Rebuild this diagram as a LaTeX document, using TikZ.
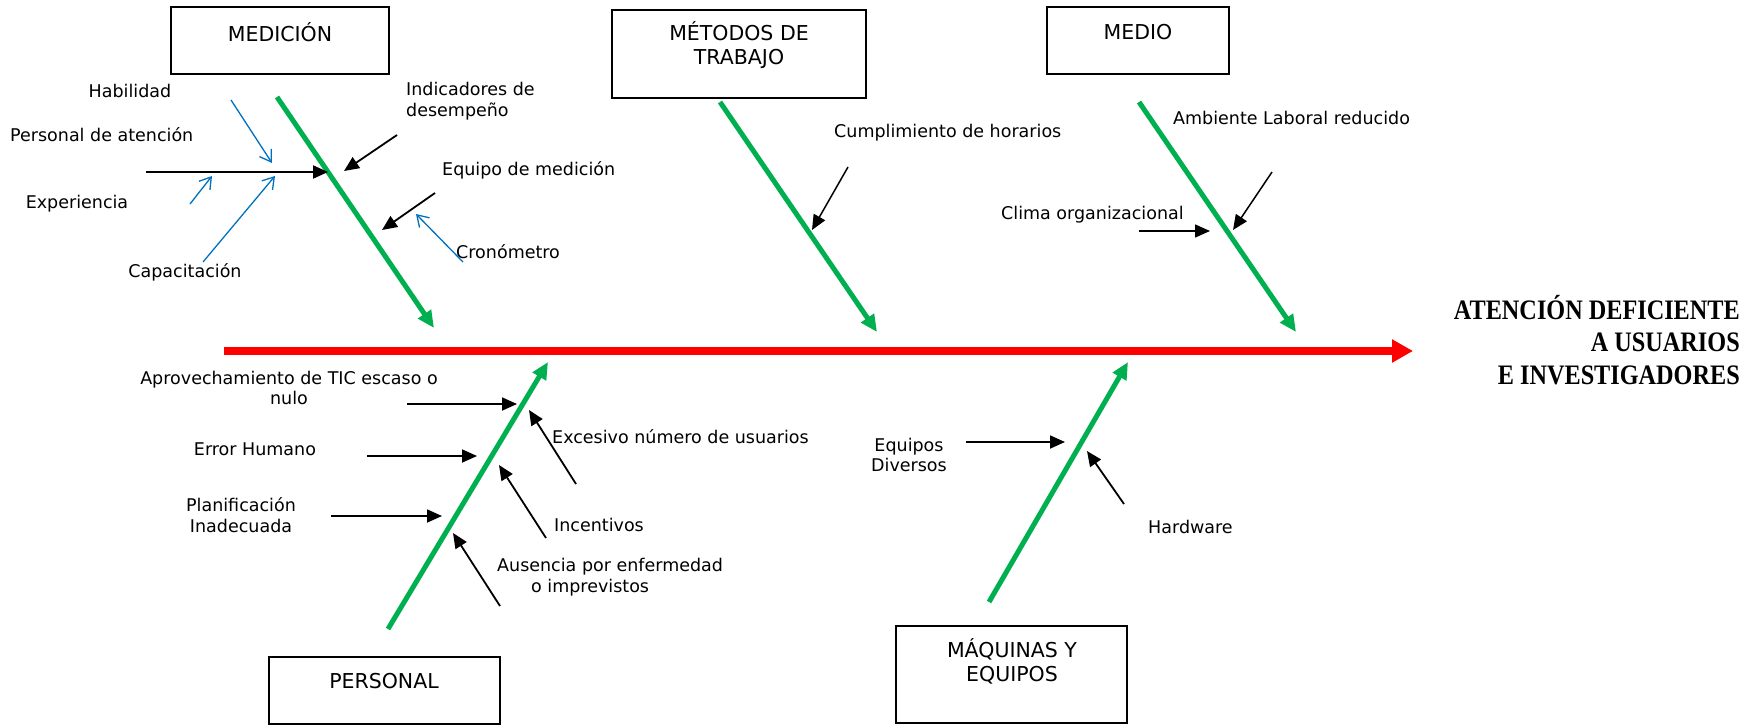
\documentclass[tikz,border=0pt]{standalone}
\usepackage{fontspec}
\usepackage{graphicx}
\setmainfont{DejaVu Sans}
\newfontfamily\effont{Liberation Serif}
\usetikzlibrary{arrows.meta}
\definecolor{boneg}{HTML}{00B050}
\definecolor{subblue}{HTML}{0070C0}
\definecolor{spinered}{HTML}{FF0000}
\begin{document}
\begin{tikzpicture}[x=1pt,y=-1pt,
  catbox/.style={draw, line width=2.4pt, inner sep=0pt},
  cattxt/.style={font=\fontsize{20.5}{24}\selectfont, inner sep=0pt, align=center},
  lbl/.style={font=\fontsize{17.5}{20.5}\selectfont, inner sep=0pt},
  bone/.style={draw=boneg, line width=5pt, -{Triangle[length=17pt,width=15pt]}},
  sub/.style={draw=black, line width=1.8pt, -{Triangle[length=15pt,width=13pt]}},
  subb/.style={draw=subblue, line width=1.3pt, -{Straight Barb[length=11pt,width=14pt]}},
  spine/.style={draw=spinered, line width=7.5pt, -{Triangle[length=21pt,width=22pt]}}]
\useasboundingbox (0,0) rectangle (1760,725);

% ---------- category boxes ----------
\node[catbox, minimum width=218pt, minimum height=67pt] (bmed) at (280,40.5) {};
\node[cattxt] (tmed) at (280,32) {MEDICIÓN};
\node[catbox, minimum width=254pt, minimum height=88pt] (bmet) at (739,54) {};
\node[cattxt] (tmet) at (739,45) {MÉTODOS DE\\TRABAJO};
\node[catbox, minimum width=182pt, minimum height=67pt] (bmedio) at (1138,40.5) {};
\node[cattxt] (tmedio) at (1138,32) {MEDIO};
\node[catbox, minimum width=231pt, minimum height=67pt] (bpers) at (384.5,690.5) {};
\node[cattxt] (tpers) at (384,681) {PERSONAL};
\node[catbox, minimum width=231pt, minimum height=97pt] (bmaq) at (1011.5,674.5) {};
\node[cattxt] (tmaq) at (1012,661.5) {MÁQUINAS Y\\EQUIPOS};

% ---------- effect ----------
\node[anchor=north east, inner sep=0pt] (eff) at (1740,294.8)
  {\scalebox{0.86}[1]{\effont\bfseries\fontsize{28.2}{32.5}\selectfont
   \begin{tabular}{@{}r@{}}ATENCIÓN DEFICIENTE\\A USUARIOS\\E INVESTIGADORES\end{tabular}}};

% ---------- spine ----------
\coordinate (sp0) at (224,351);
\coordinate (sp1) at (1413,351);
\draw[spine] (sp0) -- (sp1);

% ---------- bones ----------
\coordinate (gmed0) at (277,97);    \coordinate (gmed1) at (434,328);
\coordinate (gmet0) at (720,102);   \coordinate (gmet1) at (877,332);
\coordinate (gmedio0) at (1139,102);\coordinate (gmedio1) at (1296,332);
\coordinate (gpers0) at (388,629);  \coordinate (gpers1) at (548,362);
\coordinate (gmaq0) at (989,602);   \coordinate (gmaq1) at (1128,362);
\draw[bone] (gmed0) -- (gmed1);
\draw[bone] (gmet0) -- (gmet1);
\draw[bone] (gmedio0) -- (gmedio1);
\draw[bone] (gpers0) -- (gpers1);
\draw[bone] (gmaq0) -- (gmaq1);

% ---------- MEDICION causes ----------
\node[lbl] (thab) at (130,91) {Habilidad};
\node[lbl, anchor=west] (tpat) at (10,135) {Personal de atención};
\node[lbl] (texp) at (77,204) {Experiencia};
\node[lbl] (tcap) at (185,272) {Capacitación};
\node[lbl, anchor=west, align=left] (tind) at (406,101) {Indicadores de\\desempeño};
\node[lbl, anchor=west] (teqm) at (442,170) {Equipo de medición};
\node[lbl, anchor=west] (tcro) at (456,252) {Cronómetro};

\coordinate (hor0) at (146,172); \coordinate (hor1) at (328,172);
\coordinate (ind0) at (397,135); \coordinate (ind1) at (344,171);
\coordinate (eqm0) at (435,193); \coordinate (eqm1) at (382,230);
\coordinate (hab0) at (231,100); \coordinate (hab1) at (272,163);
\coordinate (exp0) at (190,204); \coordinate (exp1) at (212,176);
\coordinate (cap0) at (203,262); \coordinate (cap1) at (275,176);
\coordinate (cro0) at (463,262); \coordinate (cro1) at (416,214);
\draw[sub, line width=2pt] (hor0) -- (hor1);
\draw[sub] (ind0) -- (ind1);
\draw[sub] (eqm0) -- (eqm1);
\draw[subb] (hab0) -- (hab1);
\draw[subb] (exp0) -- (exp1);
\draw[subb] (cap0) -- (cap1);
\draw[subb] (cro0) -- (cro1);

% ---------- METODOS causes ----------
\node[lbl, anchor=west] (tcum) at (834,133) {Cumplimiento de horarios};
\coordinate (cum0) at (848,167); \coordinate (cum1) at (812,230);
\draw[sub, line width=1.5pt] (cum0) -- (cum1);

% ---------- MEDIO causes ----------
\node[lbl, anchor=west] (tamb) at (1173,118) {Ambiente Laboral reducido};
\node[lbl, anchor=west] (tcli) at (1001,215) {Clima organizacional};
\coordinate (amb0) at (1272,172); \coordinate (amb1) at (1233,230);
\coordinate (cli0) at (1139,231); \coordinate (cli1) at (1210,231);
\draw[sub, line width=1.5pt] (amb0) -- (amb1);
\draw[sub, line width=1.5pt] (cli0) -- (cli1);

% ---------- PERSONAL causes ----------
\node[lbl, align=center] (tapr) at (289,388) {Aprovechamiento de TIC escaso o\\nulo};
\node[lbl] (terr) at (255,449) {Error Humano};
\node[lbl, align=center] (tpla) at (241,515) {Planificación\\Inadecuada};
\node[lbl, anchor=west] (texc) at (552,437) {Excesivo número de usuarios};
\node[lbl, anchor=west] (tinc) at (554,525) {Incentivos};
\node[lbl, anchor=west, align=left] (taus) at (497,577) {Ausencia por enfermedad\\\hspace*{34pt}o imprevistos};

\coordinate (apr0) at (407,404); \coordinate (apr1) at (517,404);
\coordinate (err0) at (367,456); \coordinate (err1) at (477,456);
\coordinate (pla0) at (331,516); \coordinate (pla1) at (442,516);
\coordinate (exc0) at (576,484); \coordinate (exc1) at (529,410);
\coordinate (inc0) at (546,538); \coordinate (inc1) at (499,465);
\coordinate (aus0) at (500,606); \coordinate (aus1) at (453,533);
\draw[sub] (apr0) -- (apr1);
\draw[sub] (err0) -- (err1);
\draw[sub] (pla0) -- (pla1);
\draw[sub] (exc0) -- (exc1);
\draw[sub] (inc0) -- (inc1);
\draw[sub] (aus0) -- (aus1);

% ---------- MAQUINAS causes ----------
\node[lbl, align=center] (teqd) at (909,455) {Equipos\\Diversos};
\node[lbl, anchor=west] (thw) at (1148,527) {Hardware};
\coordinate (eqd0) at (966,442); \coordinate (eqd1) at (1065,442);
\coordinate (hw0) at (1124,504); \coordinate (hw1) at (1087,451);
\draw[sub] (eqd0) -- (eqd1);
\draw[sub] (hw0) -- (hw1);
\end{tikzpicture}
\end{document}
